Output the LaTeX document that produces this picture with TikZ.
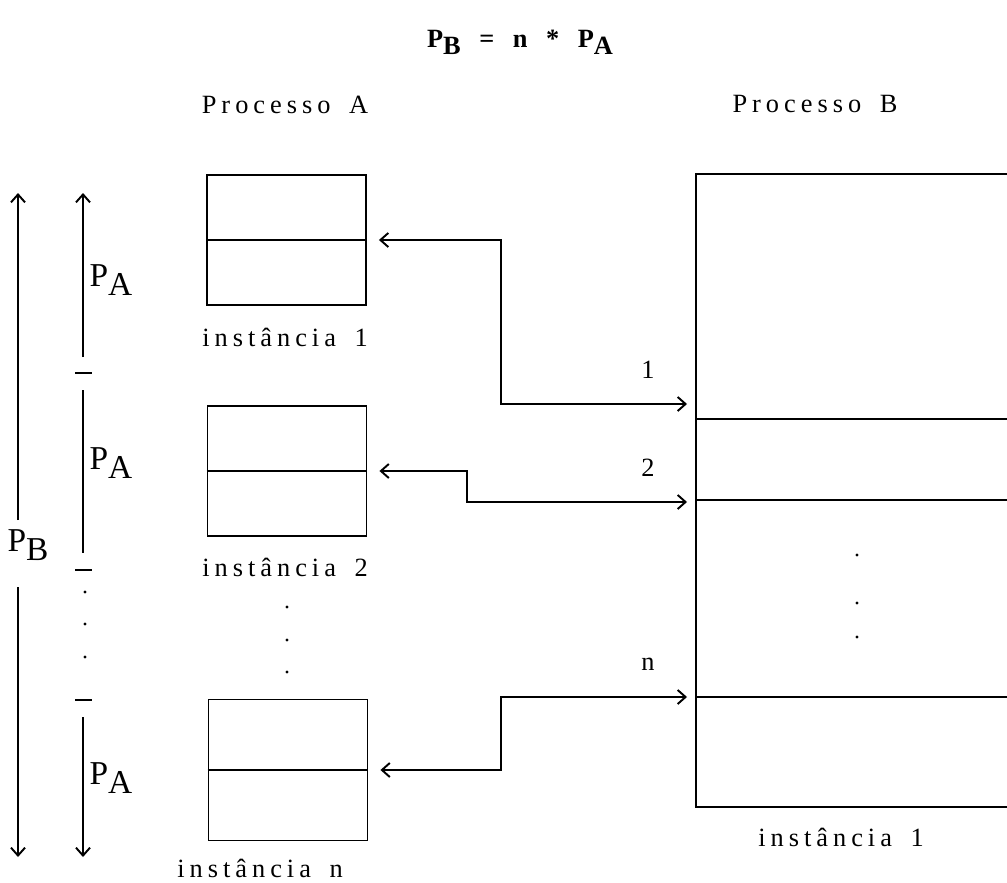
\documentclass[tikz,border=0pt]{standalone}
\usepackage{fontspec}
\setmainfont{Liberation Serif}[LetterSpace=19, WordSpace=1.6]
\usetikzlibrary{arrows.meta}
\newcommand{\lowr}[1]{\raisebox{-.6ex}{#1}}

\begin{document}
\begin{tikzpicture}[x=.02cm, y=-.02cm, line width=1.1pt,
  font=\fontsize{15}{18}\selectfont,
  >={Straight Barb[length=4.5pt,width=8pt]},
  caixa/.style={draw, minimum width=3.18cm, minimum height=2.6cm, inner sep=0},
  link/.style={<->, shorten <=.24cm, shorten >=.16cm},
  rotulo/.style={font=\fontsize{19}{22}\selectfont}]
\useasboundingbox (0,0) rectangle (1007,882);
\clip (0,0) rectangle (1007,882);

\node[font=\fontsize{15}{18}\selectfont\bfseries] (formula) at (520,42) {P\lowr{B} = n * P\lowr{A}};
\node (procA) at (285,105) {Processo A};
\node (procB) at (815,104) {Processo B};

% instancias do processo A
\node[caixa] (a1) at (286.5,240) {};
\node[caixa] (a2) at (287,471) {};
\node[caixa, minimum height=2.82cm] (an) at (288,770) {};
\foreach \c in {a1,a2,an}{\draw (\c.west) -- (\c.east);}
\node (ia1) at (285,337) {instância 1};
\node (ia2) at (285,567) {instância 2};
\node (ian) at (260,868) {instância n};
\foreach \y in {607,640,672}{\fill (287,\y) circle (1.6);}

% processo B
\node[draw, inner sep=0, minimum width=7cm, minimum height=12.66cm, anchor=north west] (b) at (695,173) {};
\foreach \y in {419,500,697}{\draw (695,\y) -- (1010,\y);}
\foreach \y in {555,603,637}{\fill (857,\y) circle (1.6);}
\node (ib) at (841,837) {instância 1};

% ligacoes
\coordinate (b1) at (695,404);
\coordinate (b2) at (695,502);
\coordinate (bn) at (695,697);
\draw[link] (a1.east) -- ++(134,0) |- (b1);
\draw[link] (a2.east) -- ++(100,0) |- (b2);
\draw[link] (an.east) -- ++(133,0) |- (bn);
\node (n1) at (648,370) {1};
\node (n2) at (648,468) {2};
\node (nn) at (648,664) {n};

% tamanhos
\coordinate (pbtop) at (18,193);
\coordinate (pbbot) at (18,857);
\coordinate (pbup) at (18,520);
\coordinate (pbdown) at (18,587);
\draw[->] (pbup) -- (pbtop);
\draw[->] (pbdown) -- (pbbot);
\node[rotulo] (pb) at (28,545) {P\lowr{B}};
\draw[->] (83,357) -- (83,193);
\draw (83,390) -- (83,553);
\draw[->] (83,717) -- (83,857);
\foreach \y in {373,570,700}{\draw (75,\y) -- (92,\y);}
\foreach \y in {592,624,657}{\fill (85,\y) circle (1.6);}
\node[rotulo] (pa1) at (111,280) {P\lowr{A}};
\node[rotulo] (pa2) at (111,463) {P\lowr{A}};
\node[rotulo] (pan) at (111,778) {P\lowr{A}};
\end{tikzpicture}
\end{document}
